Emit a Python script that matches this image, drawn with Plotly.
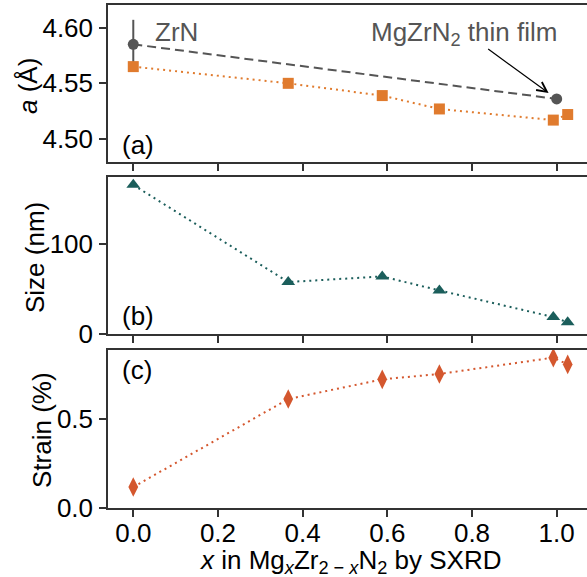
import plotly.graph_objects as go
from plotly.subplots import make_subplots

# ---- data ----
x_series = [0.0, 0.366, 0.588, 0.723, 0.992, 1.026]
a_powder = [4.565, 4.550, 4.539, 4.527, 4.517, 4.522]
size_nm = [165.3, 57.6, 63.8, 48.3, 18.8, 12.9]
strain_pct = [0.118, 0.613, 0.724, 0.754, 0.846, 0.808]

x_ref = [0.0, 1.0]
a_ref = [4.585, 4.536]
a_ref_err = [0.022, 0.0]

x_ticks = [0.0, 0.2, 0.4, 0.6, 0.8, 1.0]
a_ticks = [4.50, 4.55, 4.60]
size_ticks = [0, 100]
strain_ticks = [0.0, 0.5]

# ---- style ----
FONT = "Arial, Liberation Sans, sans-serif"
FS = 26
AX = "#333333"
GREY = "#555555"
ORANGE = "#e07b2e"
TEAL = "#1b5e5b"
RED = "#d4572e"

W, H = 587, 577
ML, MR, MT, MB = 108, 0, 5, 69
PW, PH = W - ML - MR, H - MT - MB


def py(px):
    return (H - MB - px) / PH


def pxx(px):
    return (px - ML) / PW


fig = make_subplots(rows=3, cols=1, shared_xaxes=False)

fig.add_trace(go.Scatter(x=x_ref, y=a_ref, mode="lines+markers",
                         line=dict(color=GREY, width=2, dash="9px,5px"),
                         marker=dict(symbol="circle", size=11, color=GREY),
                         error_y=dict(type="data", array=a_ref_err, color=GREY,
                                      thickness=2, width=0),
                         showlegend=False), row=1, col=1)
fig.add_trace(go.Scatter(x=x_series, y=a_powder, mode="lines+markers",
                         line=dict(color=ORANGE, width=2, dash="2px,4px"),
                         marker=dict(symbol="square", size=11, color=ORANGE),
                         showlegend=False), row=1, col=1)
fig.add_trace(go.Scatter(x=x_series, y=size_nm, mode="lines+markers",
                         line=dict(color=TEAL, width=2, dash="2px,4px"),
                         marker=dict(symbol="triangle-up", size=12, color=TEAL),
                         showlegend=False), row=2, col=1)
fig.add_trace(go.Scatter(x=x_series, y=strain_pct, mode="lines+markers",
                         line=dict(color=RED, width=2, dash="2px,4px"),
                         marker=dict(symbol="diamond-tall", size=14, color=RED),
                         showlegend=False), row=3, col=1)

xrange = [-0.0597, 1.0716]
domains = [
    [py(162), py(5)],
    [py(334), py(177)],
    [py(508), py(350)],
]
yranges = [[4.4794, 4.6203], [0, 174], [0, 0.889]]
yticks = [a_ticks, size_ticks, strain_ticks]
yfmt = [".2f", "d", ".1f"]

common = dict(showline=True, linecolor=AX, linewidth=1.5, ticks="outside",
              ticklen=7, tickwidth=1.5, tickcolor=AX, showgrid=False,
              zeroline=False, tickfont=dict(family=FONT, size=FS, color="#000"))

for i in range(3):
    xa = "xaxis" if i == 0 else f"xaxis{i+1}"
    ya = "yaxis" if i == 0 else f"yaxis{i+1}"
    fig.layout[xa].update(range=xrange, tickvals=x_ticks, mirror=True,
                          showticklabels=(i == 2), tickformat=".1f",
                          domain=[0, 1], ticklabelstandoff=-6, **common)
    fig.layout[ya].update(range=yranges[i], tickvals=yticks[i], domain=domains[i],
                          tickformat=yfmt[i], mirror=False, ticklabelstandoff=1,
                          **common)

ann = []
# y-axis titles
for text, xp, ypix in [("<i>a</i> (Å)", 28, 86), ("Size (nm)", 35, 258),
                        ("Strain (%)", 42, 430)]:
    ann.append(dict(text=text, x=pxx(xp), y=py(ypix), xref="paper", yref="paper",
                    textangle=-90, showarrow=False, xanchor="center", yanchor="middle",
                    font=dict(family=FONT, size=FS, color="#000")))
# x-axis title
ann.append(dict(text="<i>x</i> in Mg<sub><i>x</i></sub>Zr<sub>2 − <i>x</i></sub>N<sub>2</sub> by SXRD",
                x=pxx(350), y=py(561), xref="paper", yref="paper", showarrow=False,
                xanchor="center", yanchor="middle",
                font=dict(family=FONT, size=FS, color="#000")))
# panel labels
for text, ypix in [("(a)", 145), ("(b)", 316), ("(c)", 370)]:
    ann.append(dict(text=text, x=pxx(120), y=py(ypix), xref="paper", yref="paper",
                    showarrow=False, xanchor="left", yanchor="middle",
                    font=dict(family=FONT, size=FS, color="#000")))
# ZrN label
ann.append(dict(text="ZrN", x=pxx(153), y=py(32), xref="paper", yref="paper",
                showarrow=False, xanchor="left", yanchor="middle",
                font=dict(family=FONT, size=FS, color=GREY)))
# MgZrN2 label
ann.append(dict(text="MgZrN<sub>2</sub> thin film", x=pxx(559), y=py(33), xref="paper",
                yref="paper", showarrow=False, xanchor="right", yanchor="middle",
                font=dict(family=FONT, size=FS, color=GREY)))
# arrow
ann.append(dict(text="", x=x_ref[1], y=a_ref[1], xref="x", yref="y",
                showarrow=True, ax=-70, ay=-51, arrowhead=5, arrowsize=1.6,
                arrowwidth=1.2, arrowcolor="#000", standoff=10))

fig.update_layout(width=W, height=H, margin=dict(l=ML, r=MR, t=MT, b=MB),
                  plot_bgcolor="white", paper_bgcolor="white",
                  annotations=ann, font=dict(family=FONT, size=FS))

fig.write_html("out.html", config={"displayModeBar": False},
               post_script="document.body.style.margin='0px';document.body.style.overflow='hidden';")
